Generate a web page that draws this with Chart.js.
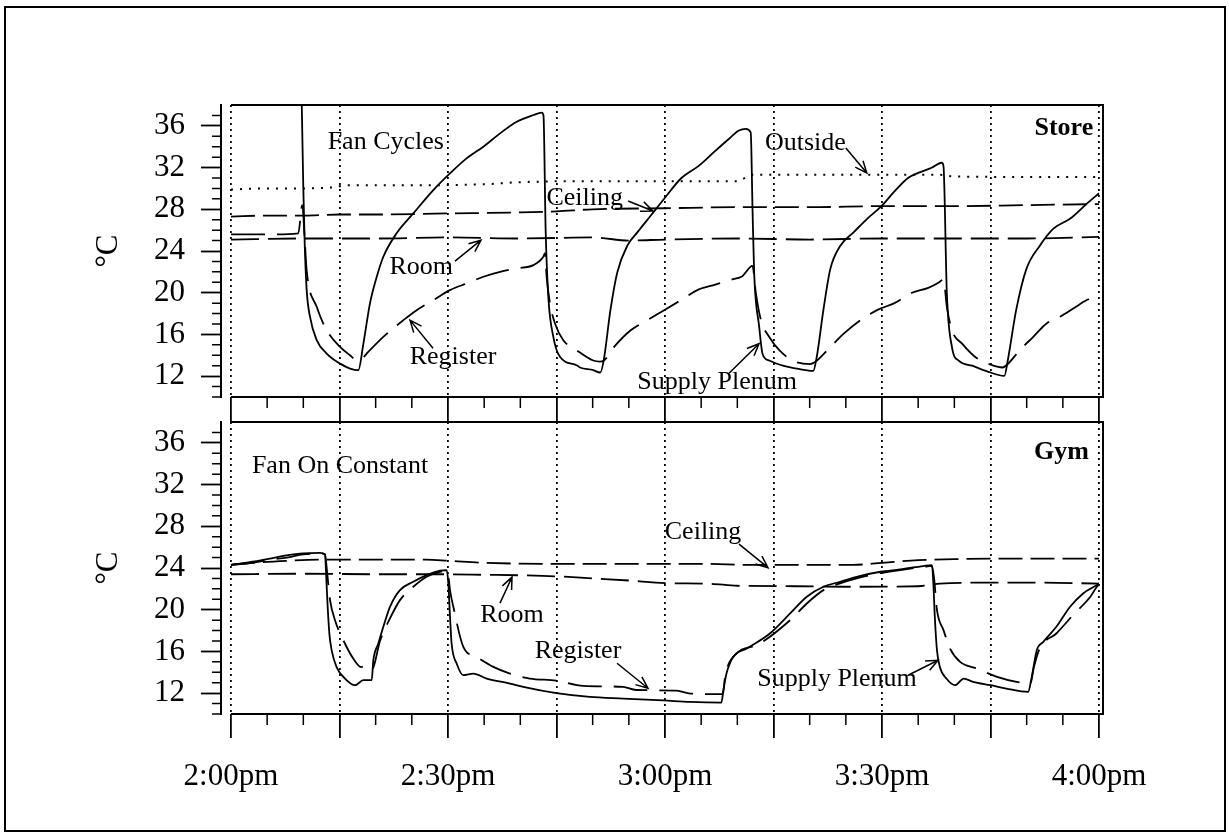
<!DOCTYPE html>
<html><head><meta charset="utf-8">
<script src="https://cdn.jsdelivr.net/npm/chart.js@4/dist/chart.umd.min.js"></script>
<style>
html,body{margin:0;padding:0;background:#fff;}
#wrap{position:relative;width:1229px;height:837px;overflow:hidden;background:#fff;}
canvas{position:absolute;left:0;top:0;}
</style></head><body>
<div id="wrap"><canvas id="topChart" width="1229" height="837"></canvas><canvas id="botChart" width="1229" height="837"></canvas></div>
<script>
// ---- axes / ticks (x = minutes after 2:00pm, y = deg C) ----
const timeMajorTicks = [0, 15, 30, 45, 60, 75, 90, 105, 120];
const timeMinorTicks = [5, 10, 20, 25, 35, 40, 50, 55, 65, 70, 80, 85, 95, 100, 110, 115];
const timeLabelValues = [0, 30, 60, 90, 120];
const timeLabels = ['2:00pm', '2:30pm', '3:00pm', '3:30pm', '4:00pm'];
const tempTicks = [12, 16, 20, 24, 28, 32, 36];
const tempMinorTicks = [10, 11, 13, 14, 15, 17, 18, 19, 21, 22, 23, 25, 26, 27, 29, 30, 31, 33, 34, 35, 37];

// ---- Store (fan cycles) series: [minute, degC] ----
const storePlenum = [[-1.4,41],[9.7,41],[9.8,37.5],[10.0,30],[10.2,24.5],[10.46,20.3],[10.92,17.7],[11.85,15.45],[13.23,14.17],[15.08,13.2],[16.46,12.73],[17.6,12.57],[18.3,15.1],[19.22,19.0],[20.14,21.5],[21.06,23.45],[22.9,25.7],[25.2,27.6],[27.97,29.84],[30.27,31.44],[32.57,32.88],[34.89,34.0],[37.19,35.28],[39.5,36.4],[41.8,37.04],[42.95,37.26],[43.2,37.0],[43.5,26],[43.87,19.6],[44.56,15.77],[45.48,13.85],[47.78,13.05],[48.25,12.83],[50.0,12.6],[51.06,12.35],[51.52,13.48],[52.46,18.35],[53.39,21.92],[54.79,24.51],[56.2,25.81],[58.07,27.43],[59.94,29.06],[62.27,31.0],[64.61,32.14],[66.95,33.6],[68.82,34.74],[70.22,35.55],[71.15,35.71],[71.85,35.38],[72.1,28],[72.32,22],[73.02,16.73],[73.49,14.13],[74.42,13.5],[76.29,13.0],[78.63,12.67],[80.5,12.51],[80.97,13.81],[81.9,18.35],[82.84,22.24],[84.24,24.51],[86.1,25.81],[87.98,27.11],[89.85,28.25],[91.72,29.71],[93.59,31.0],[95.0,31.49],[96.86,31.98],[98.26,32.46],[98.5,32.14],[98.96,19.97],[99.67,14.78],[100.6,13.48],[102.47,13.0],[104.34,12.51],[106.91,12.02],[107.38,13.48],[108.55,18.35],[109.94,22.24],[111.82,24.51],[113.69,26.14],[116.03,27.11],[118.36,28.57],[120.0,29.54]];
const storeRegister = [[0,25.6],[5,25.6],[9.3,25.7],[9.86,28.4],[10.2,25.0],[10.46,22.17],[11.85,18.65],[13.23,16.4],[15.08,14.81],[16.46,14.0],[17.37,13.53],[18.0,13.6],[18.76,14.17],[21.06,15.77],[23.83,17.37],[25.67,18.33],[27.97,19.29],[30.27,20.25],[32.57,20.89],[34.89,21.53],[37.19,22.0],[39.5,22.33],[41.8,22.65],[43.18,23.45],[43.4,23.8],[43.64,21.5],[44.1,18.97],[44.79,17.05],[45.94,15.45],[47.78,14.49],[50.08,13.5],[51.0,13.4],[51.52,13.48],[52.93,14.78],[55.26,16.4],[57.6,17.38],[59.94,18.35],[62.27,19.32],[64.61,20.3],[66.95,20.78],[69.28,21.27],[70.69,21.59],[72.09,22.57],[72.56,19.97],[73.26,17.38],[74.42,15.75],[75.83,14.46],[77.7,13.48],[80.04,13.16],[80.97,13.48],[82.84,14.78],[84.71,16.08],[87.05,17.38],[89.38,18.35],[91.72,19.0],[94.06,19.97],[96.39,20.46],[97.8,20.95],[98.5,21.27],[98.96,18.67],[99.67,16.4],[101.07,15.11],[102.93,13.81],[104.8,13.16],[106.68,12.83],[107.38,13.16],[109.0,14.46],[110.88,15.75],[112.75,17.05],[114.6,17.7],[116.5,18.51],[118.36,19.32],[120,19.8]];
const storeRoom = [[0,25.1],[10,25.2],[20,25.2],[30,25.3],[40,25.2],[50,25.3],[55,25.0],[60,25.1],[70,25.2],[80,25.1],[90,25.2],[100,25.2],[110,25.2],[120,25.35]];
const storeCeiling = [[0,27.3],[5,27.4],[10,27.4],[15,27.5],[20,27.5],[30,27.6],[40,27.7],[45,27.8],[50,28.0],[60,28.1],[70,28.2],[80,28.2],[90,28.3],[100,28.3],[110,28.4],[120,28.5]];
const storeOutside = [[0,29.9],[5,30.0],[10,30.0],[14,30.1],[16,30.3],[25,30.3],[35,30.4],[40,30.6],[50,30.7],[60,30.7],[70,30.7],[72,31.3],[85,31.3],[98,31.3],[100,31.15],[110,31.1],[120,31.1]];

// ---- Gym (fan on constant) series ----
const gymPlenum = [[0,24.3],[3,24.6],[5.4,24.9],[7.7,25.2],[10,25.4],[12.3,25.45],[13.0,25.3],[13.13,23.8],[13.32,20.9],[13.6,17.7],[13.92,16.1],[14.6,14.5],[15.76,13.4],[17.14,12.76],[18.3,13.24],[19.45,13.24],[19.68,15.16],[20.37,16.76],[21.06,18.36],[21.98,20.28],[23.36,21.88],[25.2,22.68],[27.05,23.32],[28.9,23.74],[29.82,23.8],[30.05,22.5],[30.28,19.3],[30.5,16.76],[31.2,14.84],[32.12,13.72],[33.5,13.88],[35.35,13.4],[38.57,12.92],[40.4,12.6],[45,12.0],[49.6,11.64],[54.25,11.48],[59.8,11.3],[63.5,11.16],[67.8,11.1],[68.07,12.28],[68.5,13.88],[69.45,15.48],[71.3,16.28],[74.5,17.72],[77.3,19.64],[79.6,21.24],[81.9,22.2],[84.2,22.68],[86.5,23.16],[89.8,23.64],[92.5,23.86],[95.7,24.18],[96.9,24.28],[97.1,22.5],[97.3,19.3],[97.6,16.1],[98.0,14.5],[98.9,13.4],[100.1,12.76],[101.3,13.4],[102.6,13.08],[105,12.76],[107.2,12.44],[110.2,12.12],[110.7,13.56],[111.4,16.12],[112.3,16.92],[114.1,18.36],[116.0,20.28],[117.8,21.56],[119.7,22.36],[120,22.5]];
const gymRegister = [[0,24.3],[3,24.5],[5.4,24.8],[7.7,25.0],[10,25.3],[12.3,25.4],[13.0,25.3],[13.3,23.5],[13.7,20.9],[14.38,19.0],[15.53,17.08],[16.9,15.32],[18.0,14.5],[18.76,14.68],[19.5,14.3],[20.6,17.0],[21.98,19.16],[23.36,20.92],[25.2,22.2],[27.05,23.16],[28.9,23.64],[29.8,23.7],[30.1,23.0],[30.28,21.88],[30.74,20.28],[32.12,16.44],[33.96,15.48],[36.27,14.52],[38.57,13.88],[41.3,13.4],[45,13.2],[48.7,12.7],[54.2,12.6],[56,12.3],[61.6,12.25],[63.5,11.96],[68,11.9],[68.3,13.56],[69.9,15.8],[72.7,16.6],[77.3,19.0],[79.6,20.6],[81.9,21.88],[84.2,22.52],[86.5,23.0],[89.8,23.5],[92.5,23.8],[95.7,24.1],[96.9,24.2],[97.2,23.0],[97.6,19.96],[98.5,18.04],[99.4,16.28],[100.8,15.0],[103.1,14.36],[105.9,13.56],[108.6,13.08],[110.5,12.92],[111.0,14.5],[111.8,16.28],[114.1,17.72],[116.4,19.48],[118.8,21.24],[119.7,22.2],[120,22.4]];
const gymRoom = [[0,23.4],[10,23.45],[20,23.4],[30,23.4],[35,23.35],[40,23.3],[45,23.2],[50,23.0],[55,22.8],[60,22.55],[66,22.5],[70,22.3],[78,22.25],[85,22.2],[95,22.25],[98,22.5],[105,22.6],[112,22.6],[120,22.5]];
const gymCeiling = [[0,24.3],[3,24.5],[8,24.7],[12,24.8],[20,24.8],[27,24.8],[30,24.7],[35,24.5],[45,24.4],[55,24.4],[65,24.4],[72,24.3],[80,24.3],[86,24.3],[90,24.5],[95,24.75],[100,24.85],[110,24.9],[120,24.9]];

// ---- annotations (data coordinates) ----
const storeNotes = [
  {text:'Fan Cycles', x:21.4, y:34.4},
  {text:'Store', x:119.2, y:35.8, bold:true, align:'right'},
  {text:'Outside', x:79.4, y:34.3},
  {text:'Ceiling', x:48.9, y:29.1},
  {text:'Room', x:26.3, y:22.45},
  {text:'Register', x:30.7, y:13.8},
  {text:'Supply Plenum', x:67.2, y:11.4}
];
const storeArrows = [[85.0,33.87,87.9,31.47],[54.9,28.79,58.34,27.83],[30.97,23.03,34.56,25.04],[27.93,14.68,24.75,17.37],[68.85,12.28,73.0,15.11]];
const gymNotes = [
  {text:'Fan On Constant', x:15.07, y:33.78},
  {text:'Gym', x:118.6, y:35.1, bold:true, align:'right'},
  {text:'Ceiling', x:65.26, y:27.44},
  {text:'Room', x:38.85, y:19.48},
  {text:'Register', x:47.97, y:16.02},
  {text:'Supply Plenum', x:83.78, y:13.33}
];
const gymArrows = [[70.23,26.29,74.24,24.03],[37.19,20.63,38.85,23.13],[53.37,14.87,57.65,12.47],[93.6,13.72,97.75,15.15]];

const SERIF = '"Liberation Serif", "Times New Roman", Times, serif';
Chart.defaults.font.family = SERIF;
Chart.defaults.color = '#000';

const toXY = arr => arr.map(p => ({x: p[0], y: p[1]}));

function lineSet(label, arr, dash, width) {
  return {label, data: toXY(arr), borderColor: '#000', borderWidth: width || 1.8,
    borderDash: dash, pointRadius: 0, fill: false, cubicInterpolationMode: 'monotone', borderCapStyle: 'butt'};
}

const panelPlugin = {
  id: 'panel',
  afterDraw(chart, args, opts) {
    const ctx = chart.ctx, xs = chart.scales.x, ys = chart.scales.y, ca = chart.chartArea;
    const x0 = xs.getPixelForValue(0);
    ctx.save();
    ctx.setLineDash([]);
    ctx.strokeStyle = '#000';
    if (opts.outer) { ctx.lineWidth = 2; ctx.strokeRect(5, 7, 1220, 824); }
    ctx.lineWidth = 2;
    ctx.beginPath();
    ctx.moveTo(x0, ca.top); ctx.lineTo(ca.right, ca.top); ctx.lineTo(ca.right, ca.bottom); ctx.lineTo(x0, ca.bottom);
    ctx.stroke();
    ctx.lineWidth = 1.5;
    ctx.beginPath();
    timeMinorTicks.forEach(m => { const x = xs.getPixelForValue(m); ctx.moveTo(x, ca.bottom); ctx.lineTo(x, ca.bottom + 11); });
    tempMinorTicks.forEach(v => { const y = ys.getPixelForValue(v); ctx.moveTo(ca.left, y); ctx.lineTo(ca.left - 9, y); });
    ctx.stroke();
    // annotations
    ctx.fillStyle = '#000';
    ctx.textBaseline = 'middle';
    (opts.notes || []).forEach(n => {
      ctx.font = (n.bold ? 'bold ' : '') + '26px ' + SERIF;
      ctx.textAlign = n.align || 'center';
      ctx.fillText(n.text, xs.getPixelForValue(n.x), ys.getPixelForValue(n.y));
    });
    ctx.lineWidth = 1.5;
    (opts.arrows || []).forEach(a => {
      const x1 = xs.getPixelForValue(a[0]), y1 = ys.getPixelForValue(a[1]);
      const x2 = xs.getPixelForValue(a[2]), y2 = ys.getPixelForValue(a[3]);
      const ang = Math.atan2(y2 - y1, x2 - x1), L = 13, s = 0.4;
      ctx.beginPath();
      ctx.moveTo(x1, y1); ctx.lineTo(x2, y2);
      ctx.moveTo(x2 - L * Math.cos(ang - s), y2 - L * Math.sin(ang - s)); ctx.lineTo(x2, y2);
      ctx.lineTo(x2 - L * Math.cos(ang + s), y2 - L * Math.sin(ang + s));
      ctx.stroke();
    });
    ctx.restore();
  }
};

function makeChart(id, datasets, showLabels, notes, arrows, outer, padTop, padBottom, xHeight) {
  return new Chart(document.getElementById(id), {
    type: 'line',
    data: {datasets},
    plugins: [panelPlugin],
    options: {
      responsive: false, animation: false, devicePixelRatio: 1,
      layout: {padding: {left: 80, right: 126, top: padTop, bottom: padBottom}},
      plugins: {legend: {display: false}, tooltip: {enabled: false}, panel: {notes, arrows, outer}},
      scales: {
        x: {
          type: 'linear', min: -1.38, max: 120.55,
          afterBuildTicks: s => { s.ticks = timeMajorTicks.map(v => ({value: v})); },
          afterFit: s => { s.height = xHeight; },
          grid: {display: true, drawOnChartArea: true, drawTicks: true, tickLength: showLabels ? 24 : 25,
                 color: '#000', lineWidth: 1.8, tickColor: '#000', tickWidth: 1.8},
          border: {display: false, dash: [2, 4]},
          ticks: {display: showLabels, autoSkip: false, maxRotation: 0, padding: 20, color: '#000',
                  font: {size: 31, family: SERIF},
                  callback: v => { const i = timeLabelValues.indexOf(v); return i >= 0 ? timeLabels[i] : ''; }}
        },
        y: {
          type: 'linear', min: 10, max: 38,
          afterBuildTicks: s => { s.ticks = tempTicks.map(v => ({value: v})); },
          afterFit: s => { s.width = 141; },
          grid: {display: true, drawOnChartArea: false, drawTicks: true, tickLength: 20, tickColor: '#000', tickWidth: 1.8, color: '#000'},
          border: {display: true, color: '#000', width: 2},
          ticks: {padding: 16, color: '#000', font: {size: 31, family: SERIF}, callback: v => String(v)},
          title: {display: true, text: '°C', color: '#000', font: {size: 31, family: SERIF}, padding: {top: 10, bottom: 0}}
        }
      }
    }
  });
}

makeChart('topChart', [
  lineSet('Supply Plenum', storePlenum, []),
  lineSet('Register', storeRegister, [34, 12]),
  lineSet('Room', storeRoom, [28, 9]),
  lineSet('Ceiling', storeCeiling, [24, 8]),
  lineSet('Outside', storeOutside, [2, 7], 2)
], false, storeNotes, storeArrows, true, 105, 415, 25);

makeChart('botChart', [
  lineSet('Supply Plenum', gymPlenum, []),
  lineSet('Register', gymRegister, [34, 12]),
  lineSet('Room', gymRoom, [28, 9]),
  lineSet('Ceiling', gymCeiling, [24, 8])
], true, gymNotes, gymArrows, false, 422, 33, 90);
</script>
</body></html>
